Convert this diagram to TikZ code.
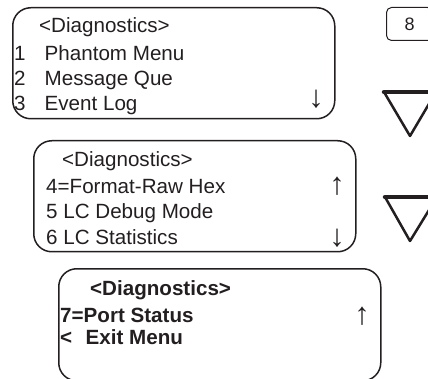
\documentclass[tikz,border=0pt]{standalone}
\usepackage{fontspec}
\setmainfont{Liberation Sans}
\definecolor{ink}{HTML}{231F20}
\begin{document}
\begin{tikzpicture}[x=1pt,y=-1pt,
  lcd/.style={draw=ink, line width=1.5pt, rounded corners=18pt, minimum width=322pt, minimum height=111pt, anchor=north west, inner sep=0pt},
  txt/.style={anchor=base west, inner sep=0pt, font=\fontsize{20.6}{24}\selectfont, text=ink},
  btxt/.style={txt, font=\fontsize{20.6}{24}\selectfont\bfseries},
  arr/.style={anchor=center, inner sep=0pt, font=\fontsize{31}{34}\selectfont, text=ink},
  keybox/.style={draw=ink, line width=1pt, rounded corners=5pt, minimum width=46pt, minimum height=33pt, anchor=north west, inner sep=0pt, font=\fontsize{18}{20}\selectfont, text=ink},
  triside/.style={draw=ink, line width=2.5pt, line join=round, line cap=round},
  tritop/.style={draw=ink, line width=4.5pt, line cap=round}]
\useasboundingbox (0,0) rectangle (428,379);
\clip (0,0) rectangle (428,379);

% first screen
\node[lcd] (box1) at (12,7) {};
\node[txt] (b1l0) at (39,33) {<Diagnostics>};
\node[txt] (b1l1) at (14,61) {\makebox[30.5pt][l]{1}Phantom Menu};
\node[txt] (b1l2) at (14,86) {\makebox[30.5pt][l]{2}Message Que};
\node[txt] (b1l3) at (14,111) {\makebox[30.5pt][l]{3}Event Log};
\node[arr] (b1dn) at (316,99) {↓};

% second screen
\node[lcd] (box2) at (33,140) {};
\node[txt] (b2l0) at (62,167) {<Diagnostics>};
\node[txt] (b2l1) at (46,194) {4=Format-Raw Hex};
\node[txt] (b2l2) at (46,219) {5 LC Debug Mode};
\node[txt] (b2l3) at (46,244) {6 LC Statistics};
\node[arr] (b2up) at (337,186) {↑};
\node[arr] (b2dn) at (337,238.5) {↓};

% third screen
\node[lcd, minimum height=112pt] (box3) at (58,268) {};
\node[btxt] (b3l0) at (90,295) {<Diagnostics>};
\node[btxt] (b3l1) at (60,322) {7=Port Status};
\node[btxt] (b3l2) at (60,344) {\makebox[25.5pt][l]{<}Exit Menu};
\node[arr] (b3up) at (362,316) {↑};

% key and down buttons
\node[keybox] (key8) at (386,7) {8};
\coordinate (t1a) at (384,92);
\coordinate (t1b) at (436,92);
\coordinate (t1c) at (410,136);
\draw[triside] (t1a) -- (t1c) -- (t1b);
\draw[tritop] (t1a) -- (t1b);
\coordinate (t2a) at (385,197);
\coordinate (t2b) at (437,197);
\coordinate (t2c) at (410,241);
\draw[triside] (t2a) -- (t2c) -- (t2b);
\draw[tritop] (t2a) -- (t2b);
\end{tikzpicture}
\end{document}
